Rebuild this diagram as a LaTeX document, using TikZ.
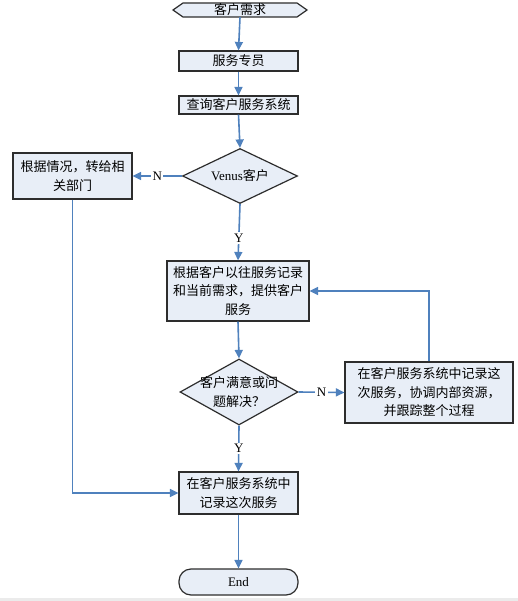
\documentclass[tikz,border=0pt]{standalone}
\usepackage{fontspec}
\setmainfont{Liberation Serif}
\newfontfamily\cjk{Noto Sans CJK SC}
\usetikzlibrary{shapes.geometric,arrows.meta,calc}
\definecolor{boxfill}{RGB}{232,238,247}
\definecolor{linec}{RGB}{79,129,189}
\definecolor{bordc}{RGB}{45,45,45}
\newcommand\myfs{\fontsize{13}{18.5}\selectfont}
\begin{document}
\begin{tikzpicture}[x=1pt,y=-1pt,
  box/.style={draw=bordc, line width=1.2pt, fill=boxfill, inner sep=0pt, align=center, font=\myfs\cjk},
  dia/.style={diamond, draw=bordc, line width=1.2pt, fill=boxfill, inner sep=0pt, shape aspect=2},
  txt/.style={inner sep=0pt, align=center, font=\myfs\cjk},
  conn/.style={draw=linec, line width=1.6pt, -{Triangle[length=8.5pt,width=8pt]}},
  lab/.style={fill=white, inner sep=1.5pt, font=\myfs}]
\useasboundingbox (0,0) rectangle (518,601);
\fill[white] (0,0) rectangle (518,601);
\fill[black!8] (0,598) rectangle (518,601);
% start hexagon
\filldraw[draw=bordc, line width=1.2pt, fill=boxfill] (173,10) -- (183,3) -- (297,3) -- (307,10) -- (297,17) -- (183,17) -- cycle;
\node[txt, minimum width=134, minimum height=14] (start) at (240,10) {客户需求};
\node[box, minimum width=119, minimum height=20] (s1) at (238.5,61) {服务专员};
\node[box, minimum width=119, minimum height=18] (s2) at (238.5,105) {查询客户服务系统};
\node[dia, minimum width=115, minimum height=55] (d1) at (240,176) {};
\node[txt] (d1t) at (d1.center) {{\rmfamily Venus}客户};
\node[box, minimum width=119, minimum height=46] (lb) at (72.5,176) {根据情况，转给相\\关部门};
\node[box, minimum width=142, minimum height=60] (b3) at (238,291) {根据客户以往服务记录\\和当前需求，提供客户\\服务};
\node[dia, minimum width=118, minimum height=66] (d2) at (239,392) {};
\node[txt] (d2t) at (d2.center) {客户满意或问\\题解决？};
\node[box, minimum width=168, minimum height=61] (rb) at (429,392.5) {在客户服务系统中记录这\\次服务，协调内部资源，\\并跟踪整个过程};
\node[box, minimum width=119, minimum height=42] (b5) at (238.5,493) {在客户服务系统中\\记录这次服务};
\node[box, rounded corners=12pt, minimum width=119, minimum height=26, font=\myfs] (end) at (238.5,582) {End};
% connectors
\draw[conn] (start.south) -- (s1.north);
\draw[conn] (s1.south) -- (s2.north);
\draw[conn] (s2.south) -- (d1.north);
\draw[conn] (d1.west) -- node[lab] {N} (lb.east);
\draw[conn] (d1.south) -- node[lab, pos=0.6] {Y} (b3.north);
\draw[conn] (b3.south) -- (d2.north);
\draw[conn] (d2.east) -- node[lab, pos=0.5] {N} (rb.west);
\draw[conn] (rb.north) |- (b3.east);
\draw[conn] (d2.south) -- node[lab, pos=0.5] {Y} (b5.north);
\draw[conn] (lb.south) |- (b5.west);
\draw[conn] (b5.south) -- (end.north);
\end{tikzpicture}
\end{document}
